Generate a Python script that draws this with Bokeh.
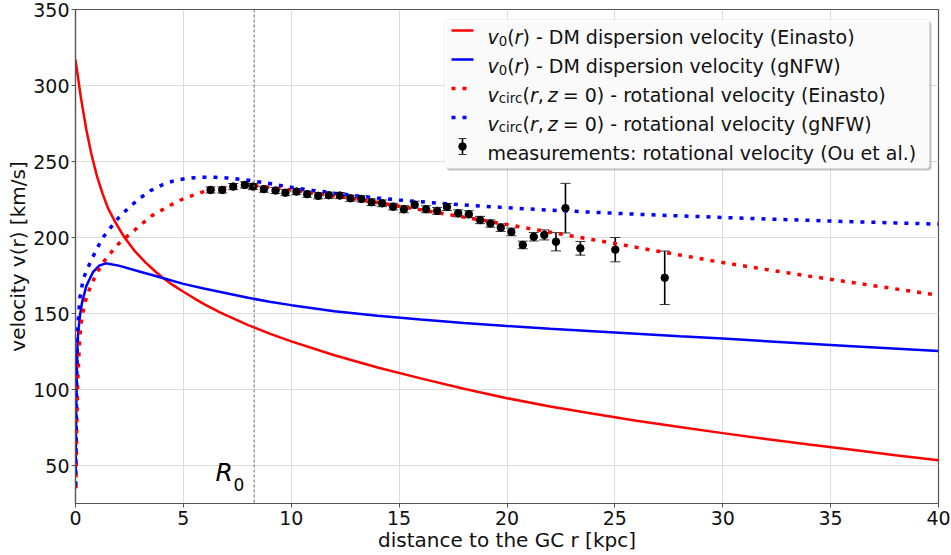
from bokeh.plotting import figure
from bokeh.models import (Range1d, FixedTicker, Span, Label, BoxAnnotation,
                          ColumnDataSource, Whisker, TeeHead)
from bokeh.embed import file_html
from bokeh.resources import INLINE

# ---------------- data ----------------
R0 = 8.28

r_ein_v0 = [0, 0.1, 0.25, 0.5, 0.75, 1.0, 1.25, 1.5, 1.85, 2.25, 2.75, 3.25, 3.75, 4.09, 4.5,
            5, 5.5, 6, 6.72, 7, 8, 9, 10, 12, 14, 16, 18, 20, 22, 24, 26, 28, 30, 32, 34, 36,
            38, 40]
v_ein_v0 = [317, 307, 292, 271, 254, 240, 229, 219.5, 210, 200.5, 191, 183.5, 177, 173, 168.8,
            164.3, 160, 155.8, 150.6, 148.7, 142.4, 136.8, 131.7, 122.5, 114.5, 107.3, 100.5,
            94.3, 88.8, 84, 79.5, 75.3, 71.3, 67.5, 63.8, 60.3, 56.8, 53.4]

r_nfw_v0 = [0.01, 0.03, 0.06, 0.1, 0.2, 0.3, 0.5, 0.8, 1.1, 1.4, 2, 3, 4, 5, 6, 7, 8, 9, 10,
            12, 14, 16, 18, 20, 22, 25, 28, 30, 33, 36, 40]
v_nfw_v0 = [45, 80, 110, 133, 148, 157, 168, 177, 181.5, 183, 181.5, 177.5, 173.5, 169.5,
            166.3, 163.3, 160.3, 157.8, 155.5, 151.5, 148.5, 146, 143.8, 141.8, 140, 137.5,
            135, 133.5, 131, 128.5, 125.3]

r_ein_vc = [0.02, 0.05, 0.1, 0.2, 0.3, 0.45, 0.7, 1, 1.3, 1.7, 2, 2.5, 3, 3.5, 4, 4.5, 5, 5.5,
            6, 6.5, 7, 7.5, 8, 8.5, 9, 10, 11, 12, 13, 14, 15, 16, 17, 18, 19, 20, 21, 22, 23,
            24, 25, 26, 27, 28, 29, 30, 32, 34, 36, 38, 40]
v_ein_vc = [35, 70, 105, 135, 148, 158, 168, 177, 184, 191, 196, 202, 208, 214, 218, 222,
            225.5, 228, 230.5, 232, 233, 233.8, 234, 233.8, 233, 231.3, 229.3, 227.3, 225.3,
            223, 220.6, 218.2, 215.8, 213.4, 211, 208.5, 206, 203.5, 201, 198.5, 196, 193.5,
            191, 188.5, 186, 183.5, 179, 174.6, 170.4, 166.2, 162]

r_nfw_vc = [0.01, 0.03, 0.06, 0.1, 0.2, 0.35, 0.5, 0.7, 1, 1.3, 1.6, 2, 2.5, 3, 3.5, 4, 4.5, 5,
            5.5, 6, 6.5, 7, 7.5, 8, 9, 10, 11, 12, 13, 14, 15, 16, 17, 18, 19, 20, 22, 24, 26,
            28, 30, 32, 34, 36, 38, 40]
v_nfw_vc = [37, 70, 110, 140, 160, 172, 178, 184, 193, 200.5, 206, 213, 220, 226, 231, 234.5,
            237, 238.5, 239.3, 239.7, 239.6, 239.2, 238.5, 237.7, 235.5, 233, 231, 229.2, 227.5,
            226, 224.7, 223.5, 222.4, 221.4, 220.5, 219.6, 218, 216.6, 215.3, 214.2, 213.2,
            212.2, 211.3, 210.4, 209.6, 208.8]

r_obs = [6.26, 6.80, 7.31, 7.85, 8.23, 8.73, 9.27, 9.73, 10.24, 10.74, 11.25, 11.74, 12.25,
         12.74, 13.25, 13.72, 14.21, 14.72, 15.22, 15.72, 16.25, 16.76, 17.22, 17.74, 18.23,
         18.75, 19.23, 19.71, 20.2, 20.73, 21.24, 21.73, 22.27, 22.71, 23.40, 25.02, 27.31]
v_obs = [231.3, 231.3, 233.5, 234.6, 233.5, 231.8, 230.9, 229.5, 230.2, 228.5, 227.4, 227.8,
         227.6, 225.8, 225.4, 223.2, 222.5, 220.3, 218.6, 221.6, 218.6, 217.5, 220.1, 215.9,
         215.3, 211.5, 209.2, 206.5, 203.7, 195.1, 200.5, 201.7, 197.2, 219.3, 192.9, 192.0,
         173.5]
e_obs = [2, 2, 2, 2, 2, 2, 2, 2, 2, 2, 2, 2, 2, 2, 2, 2.2, 2.2, 2.2, 2.3, 2.3, 2.3, 2.3, 2.3,
         2.3, 2.3, 2.4, 2.4, 2.5, 2.5, 2.5, 2.8, 3.3, 6, 16.3, 4.5, 8, 17.6]

x_ticks = [0, 5, 10, 15, 20, 25, 30, 35, 40]
y_ticks = [50, 100, 150, 200, 250, 300, 350]

leg_texts = [") - DM dispersion velocity (Einasto)",
             ") - DM dispersion velocity (gNFW)",
             "= 0) - rotational velocity (Einasto)",
             "= 0) - rotational velocity (gNFW)",
             "measurements: rotational velocity (Ou et al.)"]

# ---------------- layout ----------------
W, H = 951, 555
FL, FR, FT, FB = 75, 938, 9, 503
XMIN, XMAX, YMIN, YMAX = 0, 40, 25, 350
FONT = "DejaVu Sans"
RED, BLUE = "#ff0000", "#0000ff"


def X(px):
    return XMIN + (px - FL) / (FR - FL) * (XMAX - XMIN)


def Y(py):
    return YMAX - (py - FT) / (FB - FT) * (YMAX - YMIN)


p = figure(width=W, height=H, output_backend="svg", toolbar_location=None,
           x_range=Range1d(XMIN, XMAX), y_range=Range1d(YMIN, YMAX),
           min_border_left=FL, min_border_right=W - FR, min_border_top=FT,
           min_border_bottom=H - FB)
p.background_fill_color = "white"
p.border_fill_color = "white"
p.outline_line_color = "#555555"
p.outline_line_width = 1.2

for ax in (p.xaxis[0], p.yaxis[0]):
    ax.axis_line_color = "#555555"
    ax.axis_line_width = 1.2
    ax.major_tick_line_color = "#555555"
    ax.major_tick_out = 4
    ax.major_tick_in = 0
    ax.minor_tick_line_color = None
    ax.major_label_text_font = FONT
    ax.major_label_text_font_size = "19px"
    ax.major_label_text_color = "#111111"
    ax.axis_label_text_font = FONT
    ax.axis_label_text_font_size = "20px"
    ax.axis_label_text_font_style = "normal"
    ax.axis_label_text_color = "#111111"

p.xaxis.ticker = FixedTicker(ticks=x_ticks)
p.yaxis.ticker = FixedTicker(ticks=y_ticks)
p.xaxis.major_label_standoff = 3
p.yaxis.major_label_standoff = 2
p.xaxis.axis_label = "distance to the GC r [kpc]"
p.yaxis.axis_label = "velocity v(r) [km/s]"
p.xaxis.axis_label_standoff = 0
p.yaxis.axis_label_standoff = 0

p.grid.grid_line_color = "#dcdcdc"
p.grid.grid_line_width = 1

# R0 line
p.add_layout(Span(location=R0, dimension="height", line_color="#666666",
                  line_dash="3 2", line_width=1))

# curves
p.line(r_ein_v0, v_ein_v0, line_color=RED, line_width=2.5)
p.line(r_nfw_v0, v_nfw_v0, line_color=BLUE, line_width=2.5)
p.line(r_ein_vc, v_ein_vc, line_color=RED, line_width=3.5, line_dash="4 7")
p.line(r_nfw_vc, v_nfw_vc, line_color=BLUE, line_width=3.5, line_dash="4 7")

# measurements
src = ColumnDataSource(dict(r=r_obs, v=v_obs,
                            lo=[v - e for v, e in zip(v_obs, e_obs)],
                            hi=[v + e for v, e in zip(v_obs, e_obs)]))
p.add_layout(Whisker(source=src, base="r", lower="lo", upper="hi", dimension="height",
                     line_color="black", line_width=1.6,
                     upper_head=TeeHead(size=10, line_color="#333333", line_width=1),
                     lower_head=TeeHead(size=10, line_color="#333333", line_width=1)))
p.scatter("r", "v", source=src, size=7.5, color="black")

# R0 label
p.add_layout(Label(x=X(215), y=Y(486), text="R", text_font=FONT, text_font_size="25px",
                   text_font_style="italic", text_color="black"))
p.add_layout(Label(x=X(233), y=Y(490), text="0", text_font=FONT, text_font_size="17px",
                   text_color="black"))

# ---------------- legend ----------------
p.add_layout(BoxAnnotation(left=X(446), right=X(931), top=Y(21), bottom=Y(170),
                           fill_color="#888888", fill_alpha=0.5, line_color=None,
                           border_radius=4, level="underlay"))
p.add_layout(BoxAnnotation(left=X(444), right=X(929), top=Y(19), bottom=Y(168),
                           fill_color="white", fill_alpha=0.92, line_color="#cccccc",
                           line_width=1, border_radius=4, level="underlay"))

LS = 19
base = [36, 65, 94, 123, 152]
tx0 = 487
styles = [(RED, None), (BLUE, None), (RED, "4 7"), (BLUE, "4 7")]
for i, (col, dash) in enumerate(styles):
    yc = Y(base[i] - 6)
    kw = dict(line_color=col, line_width=2.5 if dash is None else 3.5)
    if dash:
        kw["line_dash"] = dash
    p.line([X(451), X(473)], [yc, yc], **kw)


def lab(px, py, text, size=LS, style="normal"):
    p.add_layout(Label(x=X(px), y=Y(py), text=text, text_font=FONT,
                       text_font_size=f"{size}px", text_font_style=style,
                       text_color="#111111", text_baseline="alphabetic"))


sub = LS * 0.7
for i in range(2):
    b = base[i]
    x = tx0
    lab(x, b, "v", style="italic"); x += 0.592 * LS
    lab(x, b + 4, "0", size=sub); x += 0.636 * sub
    lab(x, b, "("); x += 0.390 * LS
    lab(x, b, "r", style="italic"); x += 0.411 * LS
    lab(x, b, leg_texts[i])
for i in range(2, 4):
    b = base[i]
    x = tx0
    lab(x, b, "v", style="italic"); x += 0.592 * LS
    lab(x, b + 4, "circ", size=sub); x += 1.789 * sub
    lab(x, b, "("); x += 0.390 * LS
    lab(x, b, "r", style="italic"); x += 0.411 * LS
    lab(x, b, ","); x += 0.318 * LS + 4
    lab(x, b, "z", style="italic"); x += 0.525 * LS + 5
    lab(x, b, leg_texts[i])
lab(tx0, base[4], leg_texts[4])

# errorbar legend sample
yc = base[4] - 6
p.segment(x0=[X(462)], y0=[Y(yc - 8)], x1=[X(462)], y1=[Y(yc + 8)], line_color="black",
          line_width=1.6)
p.segment(x0=[X(458), X(458)], y0=[Y(yc - 8), Y(yc + 8)], x1=[X(466), X(466)],
          y1=[Y(yc - 8), Y(yc + 8)], line_color="#333333", line_width=1)
p.scatter([X(462)], [Y(yc)], size=7.5, color="black")

open("out.html", "w").write(file_html(p, INLINE))
